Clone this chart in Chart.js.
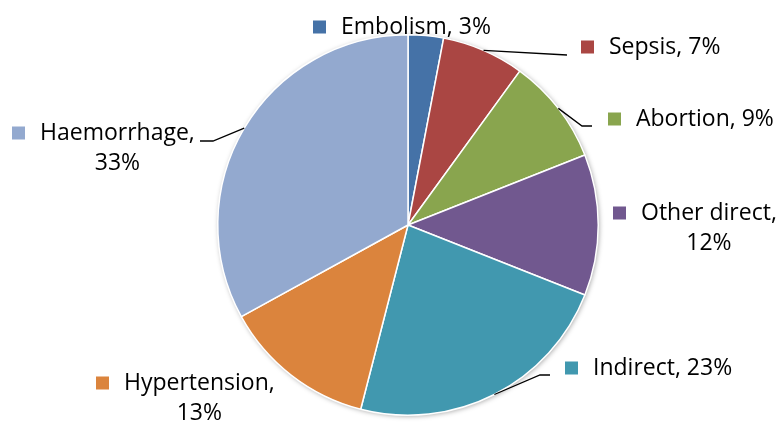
<!DOCTYPE html>
<html>
<head>
<meta charset="utf-8">
<script src="https://cdn.jsdelivr.net/npm/chart.js@4"></script>
<style>
  html, body { margin: 0; padding: 0; background: #fff; }
  #wrap { width: 779px; height: 428px; position: relative; }
</style>
</head>
<body>
<div id="wrap"><canvas id="pie" width="779" height="428"></canvas></div>
<script>
// maternal death causes, share of total (%)
const causes = ['Embolism', 'Sepsis', 'Abortion', 'Other direct', 'Indirect', 'Hypertension', 'Haemorrhage'];
const shares = [3, 7, 9, 12, 23, 13, 33];
const sliceColors = ['#4572A7', '#AA4643', '#89A54E', '#71588F', '#4198AF', '#DB843D', '#93A9CF'];

// label placement: x = marker square left, y = first line middle; leader = elbow points after the arc
const labelLayout = [
  { x: 313, y: 27, wrap: false, leader: null },
  { x: 581, y: 47, wrap: false, leader: [[567, 55]] },
  { x: 608, y: 119, wrap: false, leader: [[582, 126], [592, 126]] },
  { x: 613, y: 213, wrap: true, leader: null },
  { x: 565, y: 368, wrap: false, leader: [[540, 375], [550, 375]] },
  { x: 96, y: 383, wrap: true, leader: null },
  { x: 12, y: 133, wrap: true, leader: [[213, 141], [200, 141]] }
];

const FONT = '23px "Open Sans", Lato, sans-serif';

// soft grey halo behind the whole pie
const pieShadow = {
  id: 'pieShadow',
  beforeDatasetsDraw(chart) {
    const arc = chart.getDatasetMeta(0).data[0];
    if (!arc) return;
    const ctx = chart.ctx;
    ctx.save();
    ctx.shadowColor = 'rgba(0,0,0,0.35)';
    ctx.shadowBlur = 5;
    ctx.shadowOffsetX = 1;
    ctx.shadowOffsetY = 1;
    ctx.fillStyle = '#fff';
    ctx.beginPath();
    ctx.arc(arc.x, arc.y, arc.outerRadius, 0, Math.PI * 2);
    ctx.fill();
    ctx.restore();
  }
};

// legend-style labels with leader lines
const sliceLabels = {
  id: 'sliceLabels',
  afterDatasetsDraw(chart) {
    const ctx = chart.ctx;
    const meta = chart.getDatasetMeta(0);
    ctx.save();
    ctx.font = FONT;
    ctx.textBaseline = 'middle';
    meta.data.forEach((arc, i) => {
      const lay = labelLayout[i];
      if (lay.leader) {
        const mid = (arc.startAngle + arc.endAngle) / 2;
        ctx.beginPath();
        ctx.moveTo(arc.x + Math.cos(mid) * arc.outerRadius, arc.y + Math.sin(mid) * arc.outerRadius);
        lay.leader.forEach(p => ctx.lineTo(p[0], p[1]));
        ctx.strokeStyle = '#000';
        ctx.lineWidth = 1.3;
        ctx.stroke();
      }
      ctx.fillStyle = sliceColors[i];
      ctx.fillRect(lay.x, lay.y - 6.5, 13, 13);
      ctx.fillStyle = '#000';
      const tx = lay.x + 28;
      if (lay.wrap) {
        const first = causes[i] + ',';
        const second = shares[i] + '%';
        const w1 = ctx.measureText(first).width;
        ctx.textAlign = 'left';
        ctx.fillText(first, tx, lay.y);
        ctx.textAlign = 'center';
        ctx.fillText(second, tx + w1 / 2, lay.y + 30);
      } else {
        ctx.textAlign = 'left';
        ctx.fillText(causes[i] + ', ' + shares[i] + '%', tx, lay.y);
      }
    });
    ctx.restore();
  }
};

new Chart(document.getElementById('pie'), {
  type: 'pie',
  data: {
    labels: causes,
    datasets: [{
      data: shares,
      backgroundColor: sliceColors,
      borderColor: '#fff',
      borderWidth: 1.5
    }]
  },
  options: {
    responsive: false,
    animation: false,
    layout: { padding: { left: 217, right: 180, top: 34, bottom: 12 } },
    plugins: {
      legend: { display: false },
      tooltip: { enabled: false }
    }
  },
  plugins: [pieShadow, sliceLabels]
});
</script>
</body>
</html>
